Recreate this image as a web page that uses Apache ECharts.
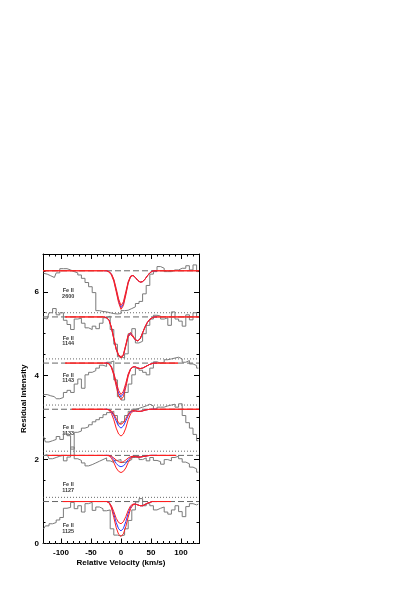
<!DOCTYPE html>
<html>
<head>
<meta charset="utf-8">
<script src="https://cdn.jsdelivr.net/npm/echarts@6/dist/echarts.min.js"></script>
<style>
html,body{margin:0;padding:0;background:#fff;}
#chart{width:409px;height:590px;}
</style>
</head>
<body>
<div id="chart"></div>
<script>
// ---------- DATA ----------
const ions = ['Fe II', 'Fe II', 'Fe II', 'Fe II', 'Fe II', 'Fe II'];
const lines = ['2600', '1144', '1143', '1133', '1127', '1125'];
const offsets = [5.5, 4.4, 3.3, 2.2, 1.1, 0];

// velocity bin centres (km/s) of the observed spectra
const velocity = [-129,-123,-117,-111,-105,-99,-93,-87,-81,-75,-69,-63,-57,-51,-45,-39,-33,-27,-21,-15,-9,-3,
                  3,9,15,21,27,33,39,45,51,57,63,69,75,81,87,93,99,105,111,117,123,129];

// normalised flux of each transition
const flux2600 = [0.94,0.92,0.88,0.84,0.95,1.05,1.05,1.02,0.98,0.95,0.90,0.82,0.72,0.62,0.48,0.05,0.03,0.02,0.00,-0.02,-0.03,-0.02,
                  0.05,0.06,0.10,0.14,0.22,0.27,0.45,0.65,0.92,0.98,1.10,1.06,0.98,0.98,1.02,1.02,1.06,1.06,1.12,1.02,1.14,0.98];
const flux1144 = [0.97,0.95,1.10,1.20,1.05,1.10,0.92,0.82,0.70,0.95,0.97,0.85,0.74,0.70,0.78,0.72,0.85,0.98,1.02,0.70,0.35,0.05,
                  0.02,0.12,0.60,0.72,0.38,0.42,0.60,0.80,0.95,1.04,1.02,0.95,0.98,0.80,1.12,0.95,0.90,0.78,1.05,0.93,1.10,1.00];
const flux1143 = [0.25,0.25,0.22,0.20,0.15,0.18,0.30,0.35,0.30,0.50,0.62,0.40,0.72,0.78,0.82,0.88,0.95,0.92,1.02,1.05,0.60,0.20,
                  0.12,0.30,0.50,0.72,0.88,0.83,0.78,0.72,0.88,1.03,1.00,1.02,1.08,1.10,1.12,1.14,1.10,1.02,1.06,0.98,0.94,0.88];
const flux1133 = [0.35,0.22,0.25,0.28,0.35,0.28,0.43,0.37,0.05,0.45,0.48,0.55,0.58,0.63,0.70,0.75,0.80,0.87,0.92,0.95,0.85,0.65,
                  0.70,0.85,0.95,1.00,1.02,1.05,1.08,1.12,1.08,1.00,1.05,1.05,1.08,1.10,1.12,1.05,1.13,0.85,0.68,0.55,0.40,0.25];
const flux1127 = [0.99,1.02,0.92,0.95,0.98,1.00,0.87,0.96,1.20,0.92,0.88,0.82,0.75,0.78,0.82,0.86,0.90,0.94,0.87,0.83,0.88,0.90,
                  0.83,0.86,0.90,0.95,0.99,0.90,0.94,0.87,0.95,0.88,0.85,0.79,0.90,0.87,0.95,0.98,0.92,0.84,0.80,0.72,0.68,0.60];
const flux1125 = [0.35,0.42,0.47,0.50,0.56,0.62,0.84,0.86,0.98,0.83,0.90,0.75,0.95,0.98,0.79,0.87,0.83,0.78,0.80,0.35,0.20,0.18,
                  0.20,0.35,0.55,0.80,0.99,1.07,0.90,0.95,0.90,0.80,0.84,0.87,0.75,0.70,0.80,0.90,0.76,0.64,0.88,0.95,0.92,0.94];

// model velocity grid (km/s)
const fitV = [-28,-24,-20,-16,-12,-8,-4,0,4,8,12,16,20,24,28,32,36,40,44,48,52,56,60];

// model profiles: upper bound (red), best fit (blue), lower bound (red)
const up2600   = [1,1,0.98,0.93,0.80,0.58,0.33,0.17,0.26,0.50,0.74,0.87,0.89,0.84,0.77,0.73,0.74,0.80,0.88,0.95,0.99,1,1];
const best2600 = [1,1,0.98,0.92,0.78,0.54,0.28,0.12,0.21,0.46,0.72,0.87,0.89,0.84,0.77,0.73,0.74,0.80,0.88,0.95,0.99,1,1];
const low2600  = [1,1,0.97,0.90,0.75,0.50,0.24,0.08,0.17,0.42,0.70,0.86,0.89,0.84,0.77,0.73,0.74,0.80,0.88,0.95,0.99,1,1];

const up1144   = [1,0.98,0.93,0.76,0.50,0.25,0.10,0.05,0.11,0.34,0.58,0.63,0.55,0.46,0.43,0.48,0.62,0.76,0.87,0.94,0.98,1,1];
const best1144 = [1,0.98,0.92,0.75,0.48,0.23,0.08,0.03,0.09,0.32,0.55,0.60,0.53,0.45,0.43,0.48,0.62,0.76,0.87,0.94,0.98,1,1];
const low1144  = [1,0.98,0.92,0.74,0.47,0.22,0.07,0.02,0.08,0.31,0.54,0.58,0.52,0.45,0.43,0.48,0.62,0.76,0.87,0.94,0.98,1,1];

const up1143   = [1,1,0.99,0.92,0.76,0.55,0.35,0.25,0.33,0.52,0.74,0.87,0.91,0.91,0.88,0.87,0.88,0.91,0.94,0.97,0.99,1,1];
const best1143 = [1,1,0.99,0.91,0.74,0.50,0.28,0.20,0.27,0.47,0.72,0.86,0.91,0.91,0.88,0.87,0.88,0.91,0.94,0.97,0.99,1,1];
const low1143  = [1,1,0.98,0.89,0.71,0.45,0.21,0.13,0.20,0.42,0.69,0.85,0.91,0.91,0.88,0.87,0.88,0.91,0.94,0.97,0.99,1,1];

const up1133   = [1,1,0.99,0.96,0.88,0.78,0.68,0.64,0.68,0.78,0.88,0.95,0.97,0.96,0.95,0.95,0.96,0.98,0.99,1,1,1,1];
const best1133 = [1,1,0.99,0.94,0.85,0.72,0.60,0.55,0.60,0.72,0.85,0.93,0.96,0.96,0.95,0.95,0.96,0.98,0.99,1,1,1,1];
const low1133  = [1,1,0.98,0.90,0.75,0.55,0.41,0.36,0.41,0.55,0.75,0.89,0.95,0.96,0.95,0.95,0.96,0.98,0.99,1,1,1,1];

const up1127   = [1,1,1,0.98,0.94,0.89,0.85,0.83,0.85,0.89,0.94,0.97,0.98,0.97,0.96,0.96,0.97,0.98,0.99,1,1,1,1];
const best1127 = [1,1,1,0.97,0.90,0.81,0.75,0.73,0.75,0.81,0.90,0.96,0.98,0.97,0.96,0.96,0.97,0.98,0.99,1,1,1,1];
const low1127  = [1,1,0.99,0.94,0.83,0.70,0.62,0.59,0.62,0.70,0.83,0.93,0.97,0.97,0.96,0.96,0.97,0.98,0.99,1,1,1,1];

const up1125   = [1,1,0.98,0.90,0.76,0.60,0.50,0.47,0.52,0.64,0.79,0.90,0.94,0.94,0.92,0.90,0.90,0.93,0.96,0.98,1,1,1];
const best1125 = [1,1,0.98,0.88,0.70,0.50,0.35,0.30,0.36,0.52,0.72,0.87,0.93,0.94,0.92,0.90,0.90,0.93,0.96,0.98,1,1,1];
const low1125  = [1,1,0.97,0.85,0.62,0.38,0.22,0.17,0.23,0.40,0.63,0.83,0.92,0.94,0.92,0.90,0.90,0.93,0.96,0.98,1,1,1];

// velocity extent of the fitted continuum (km/s)
const fitStart = [-130, -93, -93, -82, -122, -97];
const fitEnd   = [130, 130, 95, 130, 92, 83];

// axis ticks
const xMajor = [-100, -50, 0, 50, 100];
const yMajor = [0, 2, 4, 6];

// ---------- LAYOUT ----------
const labelAnchor = [[-88, 0.46], [-88, 0.43], [-88, 0.65], [-88, 0.49], [-88, 0.24], [-88, 0.36]];

const fluxes = [flux2600, flux1144, flux1143, flux1133, flux1127, flux1125];
const ups = [up2600, up1144, up1143, up1133, up1127, up1125];
const bests = [best2600, best1144, best1143, best1133, best1127, best1125];
const lows = [low2600, low1144, low1143, low1133, low1127, low1125];

const RED = '#ff1f1f', BLUE = '#2b3cff', GRAY = '#7a7a7a';
const FONT = 'Liberation Sans';

const series = [];
const lineBase = { type: 'line', symbol: 'none', silent: true, xAxisIndex: 0, yAxisIndex: 0 };

offsets.forEach((off, i) => {
  series.push(Object.assign({}, lineBase, {
    data: [[-130, off], [130, off]],
    lineStyle: { color: '#444', width: 0.8, type: [1, 2] }
  }));
  series.push(Object.assign({}, lineBase, {
    data: [[-130, off + 1], [130, off + 1]],
    lineStyle: { color: '#666', width: 1, type: [6, 3] }
  }));
});
offsets.forEach((off, i) => {
  series.push(Object.assign({}, lineBase, {
    step: 'middle',
    data: velocity.map((v, j) => [v, fluxes[i][j] + off]),
    lineStyle: { color: GRAY, width: 1 }
  }));
});
offsets.forEach((off, i) => {
  series.push(Object.assign({}, lineBase, {
    data: fitV.map((v, j) => [v, bests[i][j] + off]),
    lineStyle: { color: BLUE, width: 1 }
  }));
  [ups[i], lows[i]].forEach(arr => {
    const pts = [[fitStart[i], 1 + off]].concat(fitV.map((v, j) => [v, arr[j] + off]));
    pts.push([fitEnd[i], 1 + off]);
    series.push(Object.assign({}, lineBase, {
      data: pts.filter((p, k) => k === 0 || k === pts.length - 1 || (p[0] > fitStart[i] && p[0] < fitEnd[i])),
      lineStyle: { color: RED, width: 1 }
    }));
  });
  series.push({
    type: 'scatter', silent: true, symbolSize: 0,
    data: [[labelAnchor[i][0], labelAnchor[i][1] + off]],
    label: {
      show: true, position: 'inside', formatter: ions[i] + '\n' + lines[i],
      fontSize: 5.5, lineHeight: 5.5, fontWeight: 'bold', color: '#000', fontFamily: FONT
    }
  });
});

const hiddenLabel = { show: false };
const axisLineStyle = { show: true, onZero: false, lineStyle: { color: '#000', width: 1 } };
const textStyle = { fontSize: 8, fontWeight: 'bold', color: '#000', fontFamily: FONT };

// major-tick axes (custom tick positions)
function xMajorAx(pos, withLabel) {
  return {
    type: 'value', min: -130, max: 130, position: pos, offset: 0,
    axisLine: axisLineStyle,
    axisTick: { show: true, inside: true, length: 5, customValues: xMajor, lineStyle: { color: '#000', width: 1 } },
    axisLabel: withLabel ? Object.assign({ show: true, customValues: xMajor, margin: 5 }, textStyle) : hiddenLabel,
    splitLine: { show: false }
  };
}
// minor-tick axes (every 10 km/s, counted from min)
function xMinorAx(pos) {
  return {
    type: 'value', min: -130, max: 130, interval: 10, position: pos, offset: 0,
    axisLine: { show: false, onZero: false },
    axisTick: { show: true, inside: true, length: 2.5, lineStyle: { color: '#000', width: 1 } },
    axisLabel: hiddenLabel, splitLine: { show: false }
  };
}
function yMajorAx(pos, withLabel) {
  return {
    type: 'value', min: 0, max: 6.9, position: pos, offset: 0,
    axisLine: axisLineStyle,
    axisTick: { show: true, inside: true, length: 5, customValues: yMajor, lineStyle: { color: '#000', width: 1 } },
    axisLabel: withLabel ? Object.assign({ show: true, customValues: yMajor, margin: 4 }, textStyle) : hiddenLabel,
    splitLine: { show: false }
  };
}
function yMinorAx(pos) {
  return {
    type: 'value', min: 0, max: 6.9, interval: 0.5, position: pos, offset: 0,
    axisLine: { show: false, onZero: false },
    axisTick: { show: true, inside: true, length: 2.5, lineStyle: { color: '#000', width: 1 } },
    axisLabel: hiddenLabel, splitLine: { show: false }
  };
}

const xMain = xMajorAx('bottom', true);
xMain.name = 'Relative Velocity (km/s)';
xMain.nameLocation = 'middle';
xMain.nameGap = 15;
xMain.nameTextStyle = textStyle;
const yMain = yMajorAx('left', true);
yMain.name = 'Residual Intensity';
yMain.nameLocation = 'middle';
yMain.nameGap = 15;
yMain.nameTextStyle = textStyle;

const option = {
  animation: false,
  backgroundColor: '#fff',
  grid: { left: 43, right: 210, top: 254, bottom: 46.5, containLabel: false },
  xAxis: [xMain, xMinorAx('bottom'), xMajorAx('top', false), xMinorAx('top')],
  yAxis: [yMain, yMinorAx('left'), yMajorAx('right', false), yMinorAx('right')],
  series: series
};

const chart = echarts.init(document.getElementById('chart'), null, { renderer: 'canvas' });
chart.setOption(option);
</script>
</body>
</html>
